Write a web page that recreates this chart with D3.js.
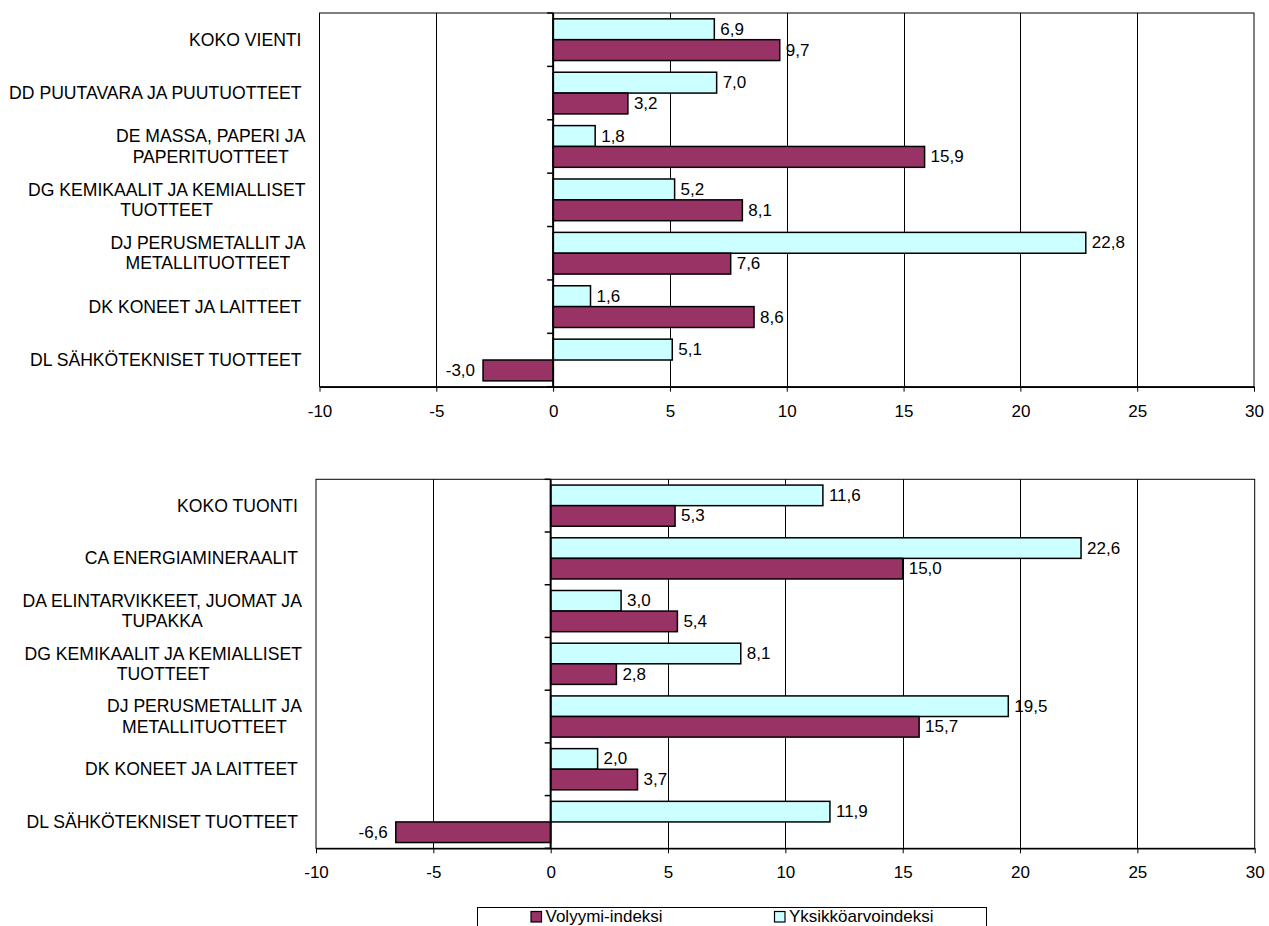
<!DOCTYPE html>
<html>
<head>
<meta charset="utf-8">
<script src="https://cdn.jsdelivr.net/npm/d3@7"></script>
<style>
  html, body { margin: 0; padding: 0; background: #fff; }
  svg { display: block; font-family: "Liberation Sans", Arial, sans-serif; }
</style>
</head>
<body>
<svg id="chart" width="1269" height="926"></svg>
<script>
// ---------- DATA ----------
const seriesNames = ["Volyymi-indeksi", "Yksikköarvoindeksi"];
const seriesColors = ["#993366", "#CCFFFF"];

const exportCategories = [
  "KOKO VIENTI",
  "DD PUUTAVARA JA PUUTUOTTEET",
  "DE MASSA, PAPERI JA\nPAPERITUOTTEET",
  "DG KEMIKAALIT JA KEMIALLISET\nTUOTTEET",
  "DJ PERUSMETALLIT JA\nMETALLITUOTTEET",
  "DK KONEET JA LAITTEET",
  "DL SÄHKÖTEKNISET TUOTTEET"
];
const exportVolume = [9.7, 3.2, 15.9, 8.1, 7.6, 8.6, -3.0];
const exportUnitValue = [6.9, 7.0, 1.8, 5.2, 22.8, 1.6, 5.1];

const importCategories = [
  "KOKO TUONTI",
  "CA ENERGIAMINERAALIT",
  "DA ELINTARVIKKEET, JUOMAT JA\nTUPAKKA",
  "DG KEMIKAALIT JA KEMIALLISET\nTUOTTEET",
  "DJ PERUSMETALLIT JA\nMETALLITUOTTEET",
  "DK KONEET JA LAITTEET",
  "DL SÄHKÖTEKNISET TUOTTEET"
];
const importVolume = [5.3, 15.0, 5.4, 2.8, 15.7, 3.7, -6.6];
const importUnitValue = [11.6, 22.6, 3.0, 8.1, 19.5, 2.0, 11.9];

const xDomain = [-10, 30];
const xTicks = [-10, -5, 0, 5, 10, 15, 20, 25, 30];

// ---------- HELPERS ----------
const loc = d3.formatLocale({decimal: ",", thousands: " ", grouping: [3], currency: ["", "€"], minus: "-"});
const fmtVal = loc.format(".1f");
const fmtTick = loc.format("d");
const FS = 17;
const FS_CAT = 17.6;

const svg = d3.select("#chart");

function panel(cfg) {
  const {left, right, top, bottom, categories, volume, unit} = cfg;
  const g = svg.append("g");
  const x = d3.scaleLinear().domain(xDomain).range([left, right]);
  const y = d3.scaleBand().domain(d3.range(categories.length)).range([top, bottom]).paddingInner(0).paddingOuter(0);
  const yi = d3.scaleBand().domain(["unit", "vol"]).range([0, y.bandwidth()]).paddingInner(0).paddingOuter(0.28);

  g.append("rect").attr("x", left).attr("y", top).attr("width", right - left).attr("height", bottom - top)
    .attr("fill", "#fff").attr("stroke", "#000").attr("stroke-width", 1);

  g.append("g").selectAll("line").data(xTicks.filter(t => t !== 0 && t !== xDomain[0] && t !== xDomain[1]))
    .join("line")
    .attr("x1", d => Math.round(x(d)) + 0.5).attr("x2", d => Math.round(x(d)) + 0.5)
    .attr("y1", top).attr("y2", bottom)
    .attr("stroke", "#000").attr("stroke-width", 1);

  const xAxis = d3.axisBottom(x).tickValues(xTicks).tickSize(5).tickSizeOuter(0).tickFormat(fmtTick);
  const ax = g.append("g").attr("transform", `translate(0,${bottom})`).call(xAxis);
  ax.select(".domain").attr("stroke", "#000").attr("stroke-width", 1.5);
  ax.selectAll(".tick line").attr("stroke", "#000");
  ax.selectAll(".tick text").attr("font-size", FS).attr("font-family", "Liberation Sans, Arial, sans-serif")
    .attr("fill", "#000").attr("y", 0).attr("dy", null).attr("dominant-baseline", "central")
    .attr("transform", "translate(0,24.4)");

  const bars = [];
  categories.forEach((c, i) => {
    bars.push({i, key: "unit", v: unit[i], color: seriesColors[1]});
    bars.push({i, key: "vol", v: volume[i], color: seriesColors[0]});
  });
  g.append("g").selectAll("rect").data(bars).join("rect")
    .attr("x", d => x(Math.min(0, d.v)))
    .attr("width", d => Math.abs(x(d.v) - x(0)))
    .attr("y", d => y(d.i) + yi(d.key))
    .attr("height", yi.bandwidth())
    .attr("fill", d => d.color)
    .attr("stroke", "#000").attr("stroke-width", 1.5);

  const x0 = x(0);
  g.append("line").attr("x1", x0).attr("x2", x0).attr("y1", top).attr("y2", bottom)
    .attr("stroke", "#000").attr("stroke-width", 2);
  const bounds = d3.range(categories.length + 1).map(k => top + k * y.step());
  g.append("g").selectAll("line").data(bounds).join("line")
    .attr("x1", x0 - 6).attr("x2", x0).attr("y1", d => d).attr("y2", d => d)
    .attr("stroke", "#000").attr("stroke-width", 1.5);

  g.append("g").selectAll("text").data(bars).join("text")
    .attr("x", d => d.v >= 0 ? x(d.v) + 6 : x(d.v) - 8)
    .attr("y", d => y(d.i) + yi(d.key) + yi.bandwidth() / 2)
    .attr("text-anchor", d => d.v >= 0 ? "start" : "end")
    .attr("dominant-baseline", "central")
    .attr("font-size", FS).attr("fill", "#000")
    .text(d => fmtVal(d.v));

  const lineH = 20.3;
  categories.forEach((c, i) => {
    const lines = c.split("\n");
    const cy = y(i) + y.bandwidth() / 2;
    const t = g.append("text").attr("font-size", FS_CAT).attr("fill", "#000").attr("text-anchor", "middle");
    lines.forEach((ln, k) => {
      t.append("tspan").attr("x", 0)
        .attr("y", cy + (k - (lines.length - 1) / 2) * lineH)
        .attr("dominant-baseline", "central")
        .text(ln);
    });
    const w = t.node().getBBox().width;
    const rightEdge = lines.length > 1 ? left - 14 : left - 18;
    t.attr("transform", `translate(${rightEdge - w / 2},0)`);
  });
}

panel({left: 319.5, right: 1254, top: 13, bottom: 386.7,
  categories: exportCategories, volume: exportVolume, unit: exportUnitValue});
panel({left: 316, right: 1254.7, top: 479.3, bottom: 848.3,
  categories: importCategories, volume: importVolume, unit: importUnitValue});

// ---------- LEGEND ----------
const lg = svg.append("g");
lg.append("rect").attr("x", 477.5).attr("y", 907.5).attr("width", 509).attr("height", 40)
  .attr("fill", "#fff").attr("stroke", "#000").attr("stroke-width", 1);
const legendX = [531, 774.5];
seriesNames.forEach((name, k) => {
  lg.append("rect").attr("x", legendX[k]).attr("y", 911.5).attr("width", 10.5).attr("height", 10.5)
    .attr("fill", seriesColors[k]).attr("stroke", "#000").attr("stroke-width", 1.2);
  lg.append("text").attr("x", legendX[k] + 14.5).attr("y", 921.5)
    .attr("font-size", FS).attr("fill", "#000").text(name);
});
</script>
</body>
</html>
